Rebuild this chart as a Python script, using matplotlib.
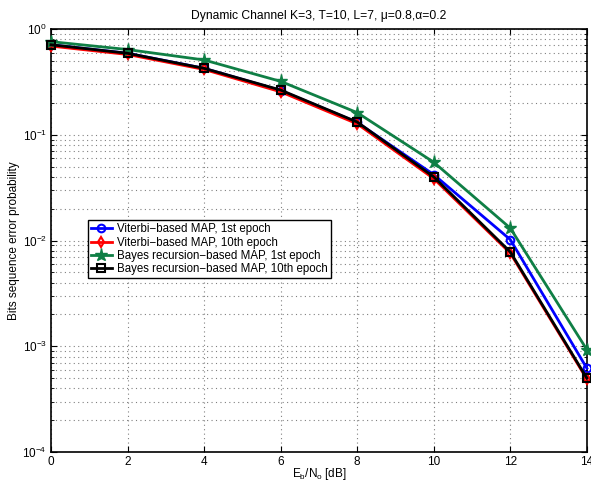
import matplotlib
matplotlib.use('Agg')
import matplotlib.pyplot as plt
from matplotlib.ticker import LogLocator, NullFormatter

plt.rcParams['font.family'] = ['Liberation Sans', 'DejaVu Sans']
plt.rcParams['mathtext.fontset'] = 'custom'
plt.rcParams['mathtext.rm'] = 'Liberation Sans'
plt.rcParams['mathtext.it'] = 'Liberation Sans'

snr_db = [0, 2, 4, 6, 8, 10, 12, 14]
viterbi_1st = [0.71, 0.59, 0.425, 0.262, 0.131, 0.042, 0.0102, 0.00062]
viterbi_10th = [0.69, 0.575, 0.415, 0.255, 0.127, 0.0385, 0.0076, 0.00049]
bayes_1st = [0.76, 0.64, 0.51, 0.32, 0.162, 0.055, 0.0131, 0.00093]
bayes_10th = [0.71, 0.59, 0.425, 0.265, 0.132, 0.040, 0.0078, 0.00050]

labels = ['Viterbi\u2212based MAP, 1st epoch',
          'Viterbi\u2212based MAP, 10th epoch',
          'Bayes recursion\u2212based MAP, 1st epoch',
          'Bayes recursion\u2212based MAP, 10th epoch']

fig = plt.figure(figsize=(5.91, 4.84), dpi=100)
ax = fig.add_axes([0.0863, 0.066, 0.9067, 0.874])

green = '#0f7f45'
ax.semilogy(snr_db, viterbi_1st, '-o', color='blue', lw=2, ms=5.5,
            mfc='none', mew=1.5, label=labels[0], zorder=3, clip_on=False)
ax.semilogy(snr_db, viterbi_10th, '-d', color='red', lw=2, ms=5,
            mfc='none', mew=1.5, label=labels[1], zorder=3, clip_on=False)
ax.semilogy(snr_db, bayes_1st, '-*', color=green, lw=2, ms=9.5,
            label=labels[2], zorder=3, clip_on=False)
ax.semilogy(snr_db, bayes_10th, '-s', color='black', lw=2, ms=5.5,
            mfc='none', mew=1.5, label=labels[3], zorder=4, clip_on=False)

ax.set_xlim(0, 14)
ax.set_ylim(1e-4, 1)
ax.set_xticks(snr_db)
ax.yaxis.set_major_locator(LogLocator(base=10, numticks=10))
ax.yaxis.set_minor_locator(LogLocator(base=10, subs=range(2, 10), numticks=20))
ax.yaxis.set_minor_formatter(NullFormatter())

grid_style = dict(ls=(0, (1, 3)), color='#808080', lw=0.8)
ax.grid(True, which='major', **grid_style)
ax.grid(True, which='minor', axis='y', **grid_style)
ax.tick_params(which='both', direction='in', top=True, right=True, labelsize=8.5)
ax.tick_params(which='major', length=4)
ax.tick_params(which='minor', length=2)
ax.tick_params(axis='x', pad=3)
ax.tick_params(axis='y', pad=3)
for s in ax.spines.values():
    s.set_linewidth(1.2)

ax.set_title('Dynamic Channel K=3, T=10, L=7, \u03bc=0.8,\u03b1=0.2', fontsize=8.7, pad=7)
ax.set_xlabel('$E_b/N_o$ [dB]', fontsize=8.5)
ax.set_ylabel('Bits sequence error probability', fontsize=8.5)
ax.xaxis.set_label_coords(0.5, -0.033)
ax.yaxis.set_label_coords(-0.058, 0.5)

leg = ax.legend(loc='lower left', bbox_to_anchor=(0.069, 0.411), fontsize=8.3,
                frameon=True, fancybox=False, edgecolor='black', framealpha=1,
                borderpad=0.25, labelspacing=0.12, handlelength=1.8,
                handletextpad=0.5, borderaxespad=0)
leg.get_frame().set_linewidth(1.0)

fig.savefig('out.png', dpi=100)
